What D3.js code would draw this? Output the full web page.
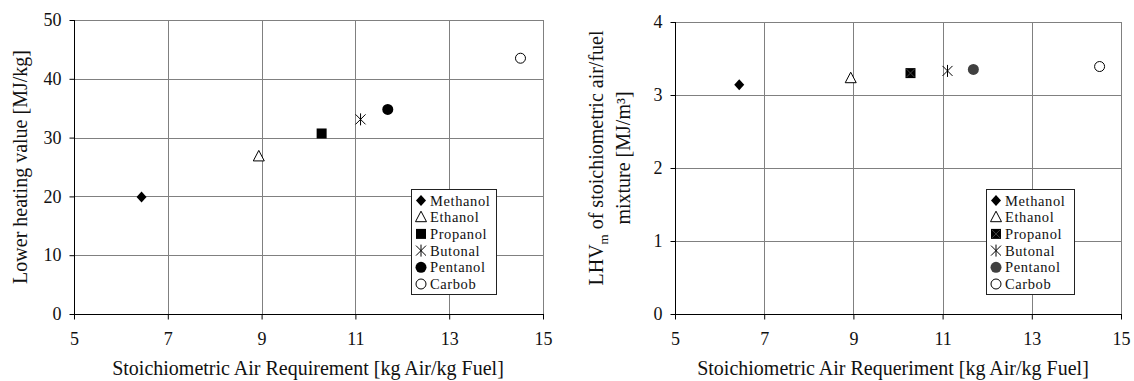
<!DOCTYPE html>
<html>
<head>
<meta charset="utf-8">
<script src="https://cdn.jsdelivr.net/npm/d3@7"></script>
<style>
body { margin: 0; background: #fff; }
svg { display: block; font-family: 'Liberation Serif', 'DejaVu Serif', serif; }
.grid line { stroke: #808080; stroke-width: 1; }
.axis text { font-size: 18px; fill: #111; }
</style>
</head>
<body>
<svg id="chart" width="1134" height="381"></svg>
<script>
///////////////////////////////////////////
//////  data  /////////////////////////////
///////////////////////////////////////////

var fuels = ["Methanol", "Ethanol", "Propanol", "Butonal", "Pentanol", "Carbob"];
var airReq = [6.44, 8.94, 10.28, 11.11, 11.69, 14.52];
var lhv = [19.9, 26.8, 30.7, 33.1, 34.8, 43.5];
var lhvMix = [3.14, 3.23, 3.30, 3.33, 3.35, 3.39];

var xTicks = [5, 7, 9, 11, 13, 15];
var yTicksLeft = [0, 10, 20, 30, 40, 50];
var yTicksRight = [0, 1, 2, 3, 4];

var svg = d3.select("#chart");

// marker for fuel i; dark = right chart style
function drawMarker(g, i, x, y, dark) {
  var tr = "translate(" + x + "," + y + ")";
  if (i == 0) {
    g.append("path").attr("d", "M0,-5.5L5,0L0,5.5L-5,0Z")
      .attr("transform", tr).attr("fill", "#000");
  } else if (i == 1) {
    g.append("path").attr("d", "M0,-6L5.5,4.5L-5.5,4.5Z")
      .attr("transform", tr)
      .attr("fill", "#fff").attr("stroke", "#000").attr("stroke-width", 1);
  } else if (i == 2) {
    g.append("rect").attr("x", x - 5).attr("y", y - 5).attr("width", 10).attr("height", 10)
      .attr("fill", "#000");
    if (dark) {
      g.append("path").attr("d", "M-4,-4L4,4M4,-4L-4,4")
        .attr("transform", tr).attr("stroke", "#444").attr("stroke-width", 1);
    }
  } else if (i == 3) {
    g.append("path").attr("d", "M-5,-5L5,5M5,-5L-5,5M0,-6L0,6")
      .attr("transform", tr).attr("stroke", "#000").attr("stroke-width", 1);
  } else if (i == 4) {
    g.append("circle").attr("cx", x).attr("cy", y).attr("r", 5.5)
      .attr("fill", dark ? "#404040" : "#000");
  } else {
    g.append("circle").attr("cx", x).attr("cy", y).attr("r", 5)
      .attr("fill", "#fff").attr("stroke", "#000").attr("stroke-width", 1);
  }
}

function makePlot(opt) {
  var g = svg.append("g");
  var xScale = d3.scaleLinear().domain([5, 15]).range([opt.left, opt.right]);
  var yScale = d3.scaleLinear().domain(opt.yDomain).range([opt.bottom, opt.top]);

  // grid
  var grid = g.append("g").attr("class", "grid");
  grid.selectAll(".gx").data(xTicks.slice(1)).enter().append("line")
    .attr("x1", d => Math.round(xScale(d)) + 0.5).attr("x2", d => Math.round(xScale(d)) + 0.5)
    .attr("y1", opt.top).attr("y2", opt.bottom);
  grid.selectAll(".gy").data(opt.yTicks.slice(1)).enter().append("line")
    .attr("y1", d => Math.round(yScale(d)) + 0.5).attr("y2", d => Math.round(yScale(d)) + 0.5)
    .attr("x1", opt.left).attr("x2", opt.right);

  // axes
  var xAxis = d3.axisBottom(xScale).tickValues(xTicks).tickSize(5).tickPadding(13)
    .tickFormat(d3.format("d"));
  var yAxis = d3.axisLeft(yScale).tickValues(opt.yTicks).tickSize(5).tickPadding(8)
    .tickFormat(d3.format("d"));
  var gx = g.append("g").attr("class", "axis")
    .attr("transform", "translate(0," + (Math.round(opt.bottom) + 0.5) + ")").call(xAxis);
  var gy = g.append("g").attr("class", "axis")
    .attr("transform", "translate(" + (Math.round(opt.left) + 0.5) + ",0)").call(yAxis);
  [gx, gy].forEach(function(a) {
    a.attr("font-family", null).attr("font-size", null);
    a.select(".domain").remove();
    a.selectAll(".tick line").attr("stroke", "#000");
  });
  g.append("line").attr("x1", opt.left - 1).attr("x2", opt.right + 1)
    .attr("y1", Math.round(opt.bottom) + 0.5).attr("y2", Math.round(opt.bottom) + 0.5)
    .attr("stroke", "#000");
  g.append("line").attr("x1", Math.round(opt.left) + 0.5).attr("x2", Math.round(opt.left) + 0.5)
    .attr("y1", opt.top).attr("y2", opt.bottom).attr("stroke", "#000");

  // axis titles
  g.append("text").attr("x", opt.xTitleX).attr("y", 375).attr("text-anchor", "middle")
    .style("font-size", "20px").attr("fill", "#111").text(opt.xTitle);
  opt.yTitle(g);

  // points
  opt.values.forEach(function(v, i) {
    drawMarker(g, i, xScale(airReq[i]), yScale(v), opt.dark);
  });

  // legend
  var lg = g.append("g");
  lg.append("rect").attr("x", opt.legX + 0.5).attr("y", 189.5)
    .attr("width", opt.legW).attr("height", 105)
    .attr("fill", "#fff").attr("stroke", "#222").attr("stroke-width", 1);
  fuels.forEach(function(f, i) {
    var cy = 200.5 + i * 16.7;
    drawMarker(lg, i, opt.legX + 10, cy, opt.dark);
    lg.append("text").attr("x", opt.legX + 19).attr("y", cy + 5)
      .style("font-size", "14.5px").style("letter-spacing", "0.6px")
      .attr("fill", "#111").text(f);
  });
}

makePlot({
  left: 74, right: 543, top: 20, bottom: 314,
  yDomain: [0, 50], yTicks: yTicksLeft, values: lhv, dark: false,
  xTitle: "Stoichiometric Air Requirement [kg Air/kg Fuel]", xTitleX: 308,
  legX: 411, legW: 85,
  yTitle: function(g) {
    g.append("text").attr("transform", "translate(27,167) rotate(-90)")
      .attr("text-anchor", "middle").style("font-size", "20px").attr("fill", "#111")
      .text("Lower heating value [MJ/kg]");
  }
});

makePlot({
  left: 675, right: 1121, top: 22, bottom: 314,
  yDomain: [0, 4], yTicks: yTicksRight, values: lhvMix, dark: true,
  xTitle: "Stoichiometric Air Requeriment [kg Air/kg Fuel]", xTitleX: 893,
  legX: 986, legW: 88,
  yTitle: function(g) {
    var t = g.append("text").attr("transform", "translate(603,158) rotate(-90)")
      .attr("text-anchor", "middle").style("font-size", "20px").attr("fill", "#111");
    t.append("tspan").text("LHV");
    t.append("tspan").attr("dy", 5).style("font-size", "13px").text("m");
    t.append("tspan").attr("dy", -5).text(" of stoichiometric air/fuel");
    g.append("text").attr("transform", "translate(630,158) rotate(-90)")
      .attr("text-anchor", "middle").style("font-size", "20px").attr("fill", "#111")
      .text("mixture [MJ/m³]");
  }
});
</script>
</body>
</html>
